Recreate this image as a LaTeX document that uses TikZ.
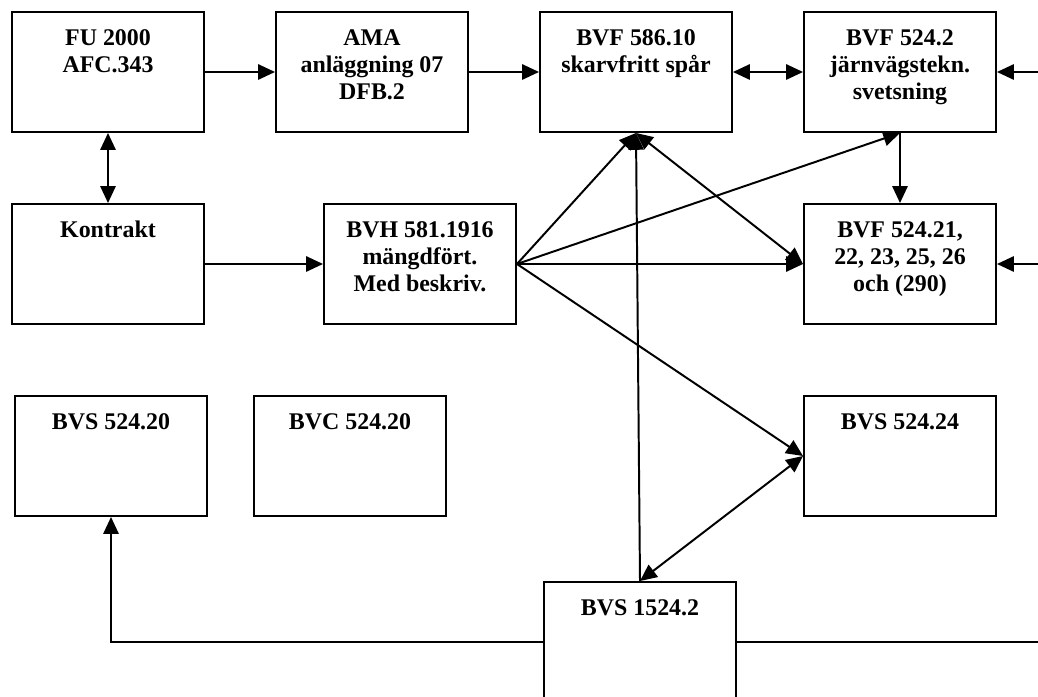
\documentclass[tikz,border=0pt]{standalone}
\usepackage{fontspec}
\setmainfont{Liberation Serif}
\usetikzlibrary{arrows.meta}

\begin{document}
\begin{tikzpicture}[
  blk/.style={draw,line width=1.4pt,minimum width=4.8cm,minimum height=3cm,inner sep=0pt},
  lbl/.style={anchor=north,align=center,inner sep=0pt,yshift=-0.45cm,font=\fontsize{17}{19.2}\selectfont\bfseries},
  conn/.style={line width=1.4pt,-{Triangle[length=4.2mm,width=3.8mm]}},
  dbl/.style={line width=1.4pt,{Triangle[length=4.2mm,width=3.8mm]}-{Triangle[length=4.2mm,width=3.8mm]}},
  wire/.style={line width=1.4pt}]
\clip (0,0) rectangle (25.95,17.4);
% boxes
\node[blk] (fu) at (2.7,15.6) {};
\node[blk] (ama) at (9.3,15.6) {};
\node[blk] (bvf586) at (15.9,15.6) {};
\node[blk] (bvf5242) at (22.5,15.6) {};
\node[blk] (kontrakt) at (2.7,10.8) {};
\node[blk] (bvh) at (10.5,10.8) {};
\node[blk] (bvf52421) at (22.5,10.8) {};
\node[blk] (bvs52420) at (2.775,6.0) {};
\node[blk] (bvc52420) at (8.75,6.0) {};
\node[blk] (bvs52424) at (22.5,6.0) {};
\node[blk] (bvs15242) at (16.0,1.35) {};
% texts
\node[lbl] (fu-t) at (fu.north) {FU 2000\\AFC.343};
\node[lbl] (ama-t) at (ama.north) {AMA\\anläggning 07\\DFB.2};
\node[lbl] (bvf586-t) at (bvf586.north) {BVF 586.10\\skarvfritt spår};
\node[lbl] (bvf5242-t) at (bvf5242.north) {BVF 524.2\\järnvägstekn.\\svetsning};
\node[lbl] (kontrakt-t) at (kontrakt.north) {Kontrakt};
\node[lbl] (bvh-t) at (bvh.north) {BVH 581.1916\\mängdfört.\\Med beskriv.};
\node[lbl] (bvf52421-t) at (bvf52421.north) {BVF 524.21,\\22, 23, 25, 26\\och (290)};
\node[lbl] (bvs52420-t) at (bvs52420.north) {BVS 524.20};
\node[lbl] (bvc52420-t) at (bvc52420.north) {BVC 524.20};
\node[lbl] (bvs52424-t) at (bvs52424.north) {BVS 524.24};
\node[lbl] (bvs15242-t) at (bvs15242.north) {BVS 1524.2};
% loose ends at the right edge
\coordinate (e1) at (25.95,15.6);
\coordinate (e2) at (25.95,10.8);
\coordinate (e3) at (25.95,1.35);
% connectors
\draw[conn] (fu) -- (ama);
\draw[conn] (ama) -- (bvf586);
\draw[dbl] (bvf586) -- (bvf5242);
\draw[conn] (e1) -- (bvf5242.east);
\draw[dbl] (fu) -- (kontrakt);
\draw[conn] (kontrakt) -- (bvh);
\draw[conn] (bvf5242) -- (bvf52421);
\draw[conn] (e2) -- (bvf52421.east);
\draw[conn] (bvh.east) -- (bvf586.south);
\draw[conn] (bvh.east) -- (bvf5242.south);
\draw[conn] (bvh.east) -- (bvf52421.west);
\draw[conn] (bvh.east) -- (bvs52424.west);
\draw[dbl] (bvf586.south) -- (bvf52421.west);
\draw[conn] (bvs15242.north) -- (bvf586.south);
\draw[dbl] (bvs15242.north) -- (bvs52424.west);
\draw[conn] (bvs15242.west) -| (bvs52420.south);
\draw[wire] (bvs15242.east) -- (e3);
\end{tikzpicture}
\end{document}
